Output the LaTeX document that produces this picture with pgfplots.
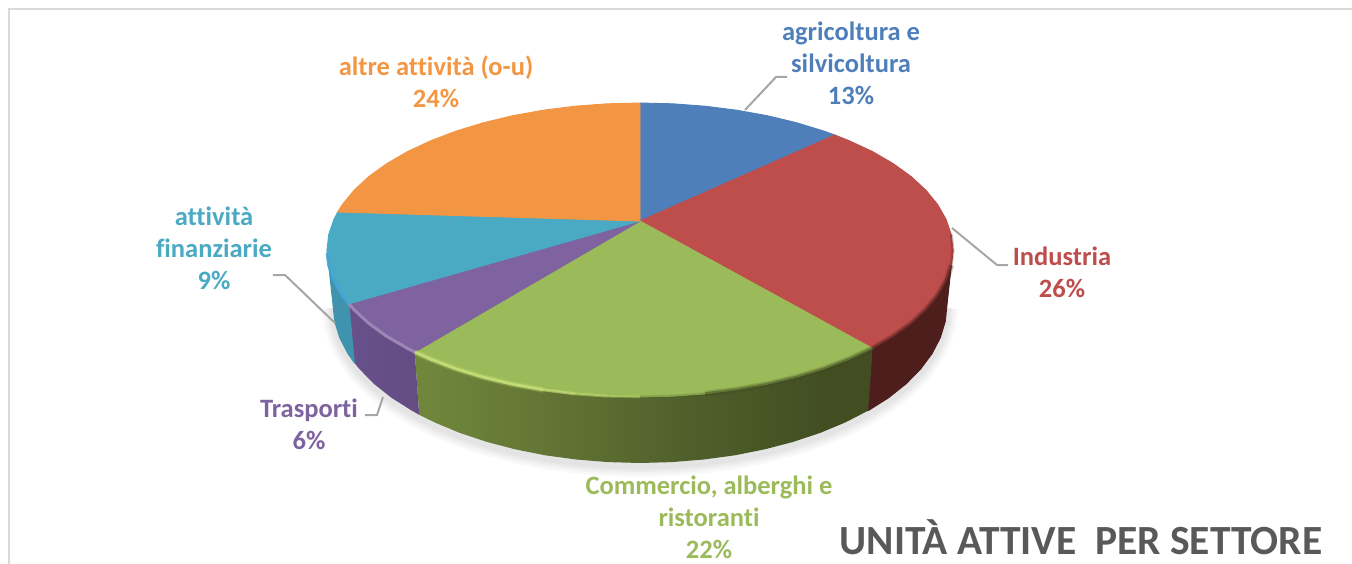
\documentclass[border=0pt]{standalone}
\usepackage{pgfplots}
\usepackage{pgfplotstable}
\pgfplotsset{compat=1.18}
\usepackage{fontspec}
\setmainfont{Carlito}[Ligatures=CommonOff]
\definecolor{cblue}{HTML}{4F7FBB}
\definecolor{cred}{HTML}{BD4E4B}
\definecolor{cgreen}{HTML}{9BBA59}
\definecolor{cpurple}{HTML}{7F62A0}
\definecolor{cteal}{HTML}{4AA9C3}
\definecolor{corange}{HTML}{F39643}
\definecolor{csred}{HTML}{4E1E1D}
\definecolor{csteal}{HTML}{4093AD}
\definecolor{leader}{HTML}{A6A6A6}
\definecolor{frame}{HTML}{D9D9D9}
\definecolor{ttl}{HTML}{595959}
\definecolor{hig}{HTML}{C8E078}
\definecolor{go}{HTML}{3F4A21}
\definecolor{g0}{HTML}{7E9B41}\definecolor{g1}{HTML}{768E3E}\definecolor{g2}{HTML}{627434}
\definecolor{g3}{HTML}{4F5F2B}\definecolor{g4}{HTML}{424E22}
\definecolor{p0}{HTML}{6B5390}\definecolor{p1}{HTML}{604A7D}
\pgfdeclarehorizontalshading{greenside}{100bp}{color(0bp)=(g0); color(20bp)=(g1); color(40bp)=(g2); color(55bp)=(g3); color(70bp)=(g4); color(100bp)=(go)}
\pgfdeclarehorizontalshading{purpleside}{100bp}{color(0bp)=(p0); color(100bp)=(p1)}
\pgfplotstableread{
x y
947 305
945.3 321.5
940.3 337.8
932 353.8
920.4 369.3
905.9 384
888.4 397.9
868.1 410.7
845.4 422.4
820.5 432.8
793.5 441.8
764.9 449.3
734.9 455.3
703.8 459.5
672.1 462.1
640 463
607.9 462.1
576.2 459.5
545.1 455.3
515.1 449.3
486.5 441.8
459.5 432.8
434.6 422.4
411.9 410.7
391.6 397.9
374.1 384
359.6 369.3
348 353.8
339.7 337.8
334.7 321.5
333 305
}\shadowtab
\newcommand{\face}[2]{\addplot[fill=#1,draw=#1,line width=.9pt,line join=round] coordinates {#2} --cycle;}
\newcommand{\rim}[4]{\addplot[draw=#1,line width=#2pt,opacity=#3,line join=round] coordinates {#4};}
\newcommand{\lbl}[4]{\node[text=#1,font=\fontsize{26.5}{32}\selectfont\bfseries,align=center,anchor=center,inner sep=0pt] at (axis cs:#2,#3) {#4};}
\begin{document}
\begin{tikzpicture}
\path (0,0) rectangle (1352pt,564pt);
\begin{axis}[scale only axis,width=1352pt,height=564pt,xmin=0,xmax=1352,ymin=0,ymax=564,y dir=reverse,hide axis,clip=true]
% frame
\addplot[draw=frame,line width=2.5pt] coordinates {(9,564)(9,9)(1352,9)};
% shadow
\addplot[draw=black,opacity=.025,line width=22pt,line join=round,yshift=-3pt] table {\shadowtab};
\addplot[draw=black,opacity=.025,line width=17pt,line join=round,yshift=-3pt] table {\shadowtab};
\addplot[draw=black,opacity=.03,line width=12pt,line join=round,yshift=-3pt] table {\shadowtab};
\addplot[draw=black,opacity=.03,line width=7pt,line join=round,yshift=-3pt] table {\shadowtab};
% sides
\face{csred}{(953,250)(951.3,265.4)(946.1,280.6)(937.7,295.4)(925.9,309.8)(911.1,323.5)(893.2,336.4)(872.6,348.4)(868.1,410.7)(888.4,397.9)(905.9,384)(920.4,369.3)(932,353.8)(940.3,337.8)(945.3,321.5)(947,305)}
\addplot[shade,shading=greenside,draw=none] coordinates {(872.6,348.4)(849.4,359.2)(824,368.9)(796.5,377.3)(767.3,384.3)(736.7,389.8)(705.1,393.8)(672.7,396.2)(640,397)(607.3,396.2)(574.9,393.8)(543.3,389.8)(512.7,384.3)(483.5,377.3)(456,368.9)(430.6,359.2)(414.8,352.1)(419.2,414.8)(434.6,422.4)(459.5,432.8)(486.5,441.8)(515.1,449.3)(545.1,455.3)(576.2,459.5)(607.9,462.1)(640,463)(672.1,462.1)(703.8,459.5)(734.9,455.3)(764.9,449.3)(793.5,441.8)(820.5,432.8)(845.4,422.4)(868.1,410.7)} --cycle;
\addplot[shade,shading=purpleside,draw=none] coordinates {(414.8,352.1)(407.4,348.4)(386.8,336.4)(368.9,323.5)(354.1,309.8)(348.8,303.9)(354.4,362.9)(359.6,369.3)(374.1,384)(391.6,397.9)(411.9,410.7)(419.2,414.8)} --cycle;
\face{csteal}{(348.8,303.9)(342.3,295.4)(333.9,280.6)(328.7,265.4)(327,250)(333,305)(334.7,321.5)(339.7,337.8)(348,353.8)(354.4,362.9)}
% top faces
\face{cblue}{(640,221)(640,103)(672.7,103.8)(705.1,106.2)(736.7,110.2)(767.3,115.7)(796.5,122.7)(824,131.1)(834.8,135)}
\face{cred}{(640,221)(834.8,135)(849.4,140.8)(872.6,151.6)(893.2,163.6)(911.1,176.5)(925.9,190.2)(937.7,204.6)(946.1,219.4)(951.3,234.6)(953,250)(951.3,265.4)(946.1,280.6)(937.7,295.4)(925.9,309.8)(911.1,323.5)(893.2,336.4)(872.6,348.4)}
\face{cgreen}{(640,221)(872.6,348.4)(849.4,359.2)(824,368.9)(796.5,377.3)(767.3,384.3)(736.7,389.8)(705.1,393.8)(672.7,396.2)(640,397)(607.3,396.2)(574.9,393.8)(543.3,389.8)(512.7,384.3)(483.5,377.3)(456,368.9)(430.6,359.2)(414.8,352.1)}
\face{cpurple}{(640,221)(414.8,352.1)(407.4,348.4)(386.8,336.4)(368.9,323.5)(354.1,309.8)(348.8,303.9)}
\face{cteal}{(640,221)(348.8,303.9)(342.3,295.4)(333.9,280.6)(328.7,265.4)(327,250)(328.7,234.6)(333.9,219.4)(337.7,212)}
\face{corange}{(640,221)(337.7,212)(342.3,204.6)(354.1,190.2)(368.9,176.5)(386.8,163.6)(407.4,151.6)(430.6,140.8)(456,131.1)(483.5,122.7)(512.7,115.7)(543.3,110.2)(574.9,106.2)(607.3,103.8)(640,103)}
% rim: dark right part
\rim{go}{6}{.22}{(705.1,393.8)(736.7,389.8)(767.3,384.3)(796.5,377.3)(824,368.9)(849.4,359.2)(872.6,348.4)}
\rim{go}{3}{.5}{(705.1,393.8)(736.7,389.8)(767.3,384.3)(796.5,377.3)(824,368.9)(849.4,359.2)(872.6,348.4)}
\rim{go}{3}{.2}{(640,397)(672.7,396.2)(705.1,393.8)}
\rim{csred}{6}{.22}{(951.3,265.4)(946.1,280.6)(937.7,295.4)(925.9,309.8)(911.1,323.5)(893.2,336.4)(872.6,348.4)}
\rim{csred}{3}{.5}{(951.3,265.4)(946.1,280.6)(937.7,295.4)(925.9,309.8)(911.1,323.5)(893.2,336.4)(872.6,348.4)}
\rim{csred}{3}{.25}{(951.3,234.6)(953,250)(951.3,265.4)}
% rim: light left part
\rim{hig}{3}{.25}{(640,397)(607.3,396.2)}
\rim{hig}{3}{.45}{(607.3,396.2)(574.9,393.8)}
\rim{hig}{3}{.65}{(574.9,393.8)(543.3,389.8)}
\rim{hig}{3}{.85}{(543.3,389.8)(512.7,384.3)(483.5,377.3)(456,368.9)(430.6,359.2)(414.8,352.1)}
\rim{hig}{6}{.25}{(543.3,389.8)(512.7,384.3)(483.5,377.3)(456,368.9)(430.6,359.2)(414.8,352.1)}
\rim{cpurple!70!white}{3}{.8}{(414.8,352.1)(407.4,348.4)(386.8,336.4)(368.9,323.5)(354.1,309.8)(348.8,303.9)}
\rim{cyan!45!cteal}{3}{.9}{(348.8,303.9)(342.3,295.4)(333.9,280.6)(328.7,265.4)(327.2,253)}
% leaders
\addplot[draw=leader,line width=2pt] coordinates {(745,110)(776,77)(787,77)};
\addplot[draw=leader,line width=2pt] coordinates {(952,228)(997,265)(1008,265)};
\addplot[draw=leader,line width=2pt] coordinates {(335,323)(285,275)(273,275)};
\addplot[draw=leader,line width=2pt] coordinates {(383,397)(377,415)(365,415)};
% labels
\lbl{cblue}{851}{63}{agricoltura e\\silvicoltura\\13\%}
\lbl{cred}{1062}{272}{Industria\\26\%}
\lbl{corange}{436}{82}{altre attività (o-u)\\24\%}
\lbl{cteal}{214}{248}{attività\\finanziarie\\9\%}
\lbl{cpurple}{309}{424}{Trasporti\\6\%}
\lbl{cgreen}{709}{517}{Commercio, alberghi e\\ristoranti\\22\%}
\node[text=ttl,font=\fontsize{41.5}{43}\selectfont\bfseries,anchor=center,inner sep=0pt] at (axis cs:1081,537) {UNITÀ\ ATTIVE\ \ PER SETTORE};
\end{axis}
\end{tikzpicture}
\end{document}
